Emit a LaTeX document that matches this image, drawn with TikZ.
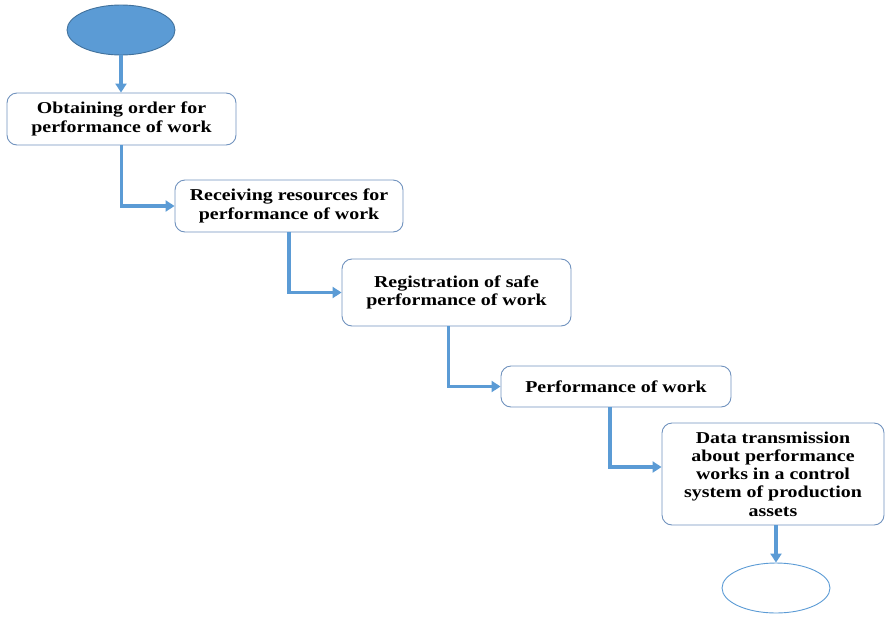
\documentclass[tikz,border=0pt]{standalone}
\usepackage{fontspec}
\setmainfont[FakeStretch=1.2]{Liberation Serif}
\usetikzlibrary{arrows.meta,shapes.geometric}
\definecolor{ff}{RGB}{91,155,213}
\definecolor{bb}{RGB}{65,113,156}
\definecolor{ll}{RGB}{112,146,190}

\begin{document}
\begin{tikzpicture}[x=1pt, y=1pt,
  stepbox/.style={rectangle, rounded corners=10pt, draw=ll, line width=0.9pt, fill=white, inner sep=0pt, align=center, font=\bfseries\fontsize{16.6}{18.2}\selectfont},
  endpoint/.style={ellipse, minimum width=108pt, minimum height=50pt, inner sep=0pt, line width=0.9pt},
  flow/.style={draw=ff, line width=3.4pt, -{Triangle[length=9pt, width=11pt]}}]
\useasboundingbox (0pt, 0pt) rectangle (885pt, -616pt);
\node (start) [endpoint, fill=ff, draw=bb] at (121pt, -30pt) {};
\node (order) [stepbox, minimum width=229pt, minimum height=52pt] at (121.5pt, -119pt) {Obtaining order for\\performance of work};
\node (resources) [stepbox, minimum width=228pt, minimum height=52pt] at (289pt, -206pt) {Receiving resources for\\performance of work};
\node (registration) [stepbox, minimum width=229pt, minimum height=67pt] at (456.5pt, -292.5pt) {Registration of safe\\performance of work};
\node (work) [stepbox, minimum width=230pt, minimum height=41pt] at (616pt, -386.5pt) {Performance of work};
\node (transmission) [stepbox, minimum width=222pt, minimum height=102pt] at (773pt, -474pt) {Data transmission\\about performance\\works in a control\\system of production\\assets};
\node (finish) [endpoint, fill=white, draw=ff] at (776pt, -588pt) {};
\draw [flow] (start.south) -- (start.south |- order.north);
\draw [flow] (order.south) |- (resources.west);
\draw [flow] (resources.south) |- (registration.west);
\draw [flow] ([xshift=-8pt]registration.south) |- (work.west);
\draw [flow] ([xshift=-6pt]work.south) |- ([yshift=7pt]transmission.west);
\draw [flow] ([xshift=3pt]transmission.south) -- (finish.north);
\end{tikzpicture}
\end{document}
